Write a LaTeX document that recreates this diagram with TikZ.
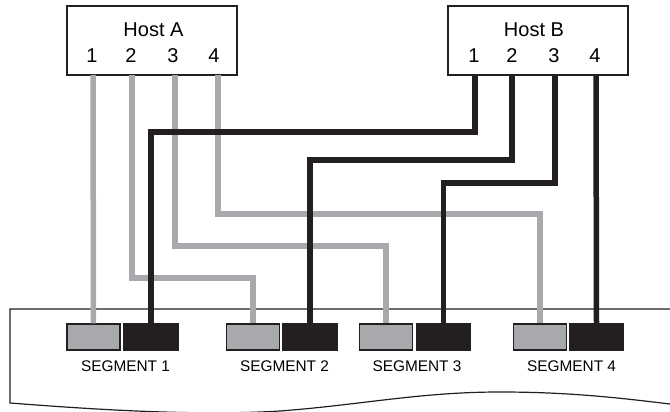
\documentclass[tikz,border=0pt]{standalone}
\usepackage{fontspec}
\setmainfont{Liberation Sans}
\definecolor{wgray}{HTML}{A7A9AC}
\definecolor{wblack}{HTML}{231F20}
\tikzset{
  hostbox/.style={draw=wblack, line width=1.2pt, fill=white, inner sep=0pt},
  hosttext/.style={font=\fontsize{20}{22}\selectfont, inner sep=0pt},
  grayport/.style={draw=wblack, line width=1.2pt, fill=wgray, minimum width=53pt, minimum height=26pt, inner sep=0pt},
  blackport/.style={draw=wblack, line width=1.2pt, fill=wblack, minimum width=54pt, minimum height=26pt, inner sep=0pt},
  seglabel/.style={font=\fontsize{15.4}{17}\selectfont, inner sep=0pt},
  gw/.style={draw=wgray, line width=5.5pt},
  bw/.style={draw=wblack, line width=5.5pt},
  panel/.style={draw=wblack, line width=1.2pt}
}
\begin{document}
\begin{tikzpicture}[x=1pt,y=-1pt]
\useasboundingbox (0,0) rectangle (670,412);
% panel
\draw[panel] (670,309) -- (10,309) -- (10,403)
  .. controls (100,410) and (200,416) .. (280,411)
  .. controls (360,405) and (420,392) .. (500,392)
  .. controls (570,392) and (620,398) .. (670,404);
% hosts
\node[hostbox, minimum width=170pt, minimum height=69pt] (hostA) at (152,40.5) {};
\node[hostbox, minimum width=180pt, minimum height=69pt] (hostB) at (538,40.5) {};
\node[hosttext] (hostAt) at (153.5,30) {Host A};
\node[hosttext] (hostBt) at (534,30) {Host B};
\foreach \i/\x in {1/92,2/131,3/173,4/214}{
  \node[hosttext] (na\i) at (\x,56) {\i};
}
\foreach \i/\x in {1/474,2/512,3/554,4/595}{
  \node[hosttext] (nb\i) at (\x,56) {\i};
}
\foreach \i/\x in {1/93,2/132,3/175,4/218}{
  \coordinate (a\i) at (\x,75);
}
\foreach \i/\x in {1/475,2/512,3/555,4/596}{
  \coordinate (b\i) at (\x,75);
}
% segment ports
\foreach \i/\gx/\kx in {1/93.5/151,2/253/310,3/386/443.5,4/540/596.5}{
  \node[grayport] (g\i) at (\gx,337) {};
  \node[blackport] (k\i) at (\kx,337) {};
}
\node[seglabel] (s1) at (125.5,366.5) {SEGMENT 1};
\node[seglabel] (s2) at (284.5,366.5) {SEGMENT 2};
\node[seglabel] (s3) at (417,366.5) {SEGMENT 3};
\node[seglabel] (s4) at (571.5,366.5) {SEGMENT 4};
% gray wires
\draw[gw] (a1) -- (g1.north);
\draw[gw] (a2) -- (a2 |- 0,278) -| (g2.north);
\draw[gw] (a3) -- (a3 |- 0,246) -| (g3.north);
\draw[gw] (a4) -- (a4 |- 0,214) -| (g4.north);
% black wires
\draw[bw] (b1) -- (b1 |- 0,132) -| (k1.north);
\draw[bw] (b2) -- (b2 |- 0,160) -| (k2.north);
\draw[bw] (b3) -- (b3 |- 0,183) -| (k3.north);
\draw[bw] (b4) -- (k4.north);
\end{tikzpicture}
\end{document}
